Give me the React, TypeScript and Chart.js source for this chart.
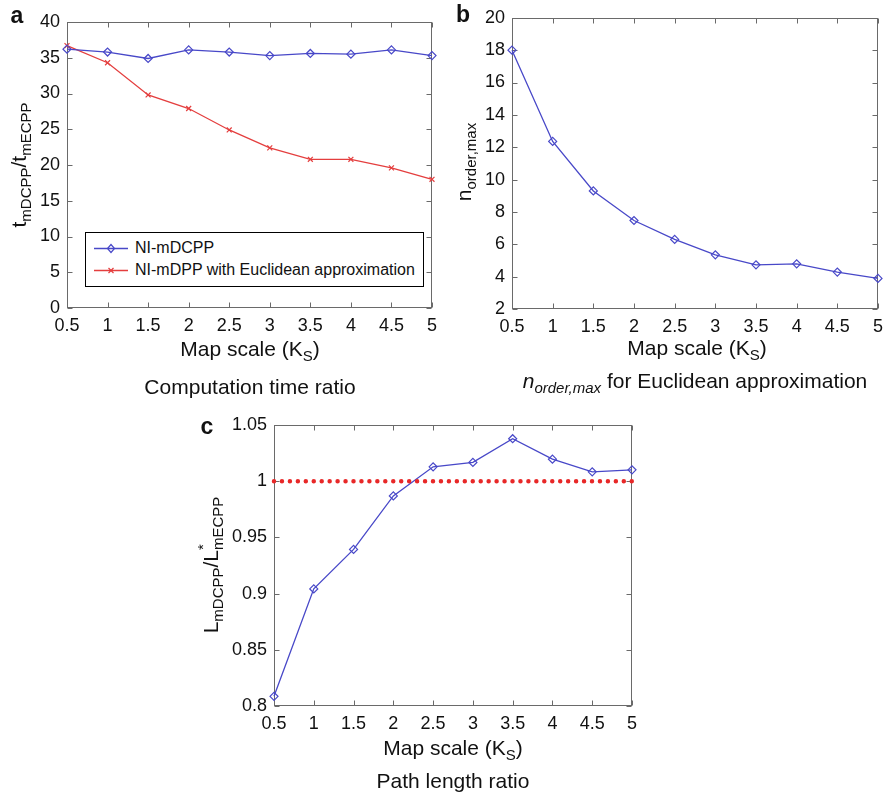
import React, { useEffect, useRef } from "react";
import { Chart, registerables } from "chart.js";

Chart.register(...registerables);
Chart.defaults.font.family = "'Liberation Sans', Arial, Helvetica, sans-serif";

// ---------- data ----------
const mapScale = [0.5, 1, 1.5, 2, 2.5, 3, 3.5, 4, 4.5, 5];
const timeRatioNI = [36.2, 35.8, 34.9, 36.1, 35.8, 35.3, 35.6, 35.5, 36.1, 35.3];
const timeRatioEuclid = [36.7, 34.3, 29.8, 27.9, 24.9, 22.4, 20.8, 20.8, 19.6, 18.0];
const nOrderMax = [18.0, 12.36, 9.3, 7.47, 6.3, 5.35, 4.73, 4.79, 4.28, 3.89];
const pathLengthRatio = [0.8086, 0.9042, 0.9393, 0.9869, 1.0128, 1.0167, 1.0378, 1.0196, 1.0083, 1.0101];
const referenceScale = [0.5, 5];
const referenceRatio = [1, 1];

const legendLabels = ["NI-mDCPP", "NI-mDPP with Euclidean approximation"];

const BLUE = "rgb(72,72,200)";
const RED = "rgb(228,62,62)";

const fmt = (v: number | string) => String(Number(Number(v).toFixed(2)));
const pts = (xs: number[], ys: number[]) => xs.map((x, i) => ({ x, y: ys[i] }));

const framePlugin = {
  id: "frame",
  beforeDatasetsDraw(chart: any) {
    const { ctx, chartArea: a, scales } = chart;
    const L = Math.round(a.left) + 0.5;
    const R = Math.round(a.right) - 0.5;
    const T = Math.round(a.top) + 0.5;
    const B = Math.round(a.bottom) - 0.5;
    ctx.save();
    ctx.strokeStyle = "#6a6a6a";
    ctx.lineWidth = 1;
    ctx.strokeRect(L, T, R - L, B - T);
    const len = 5;
    ctx.beginPath();
    scales.x.ticks.forEach((t: any) => {
      const x = Math.round(scales.x.getPixelForValue(t.value)) + 0.5;
      ctx.moveTo(x, B);
      ctx.lineTo(x, B - len);
      ctx.moveTo(x, T);
      ctx.lineTo(x, T + len);
    });
    scales.y.ticks.forEach((t: any) => {
      const y = Math.round(scales.y.getPixelForValue(t.value)) + 0.5;
      ctx.moveTo(L, y);
      ctx.lineTo(L + len, y);
      ctx.moveTo(R, y);
      ctx.lineTo(R - len, y);
    });
    ctx.stroke();
    ctx.restore();
  },
};

function baseOptions(p: {
  yMin: number; yMax: number; yStep: number; yWidth: number; xHeight: number;
  pad: { left: number; right: number; top: number; bottom: number };
}) {
  return {
    responsive: false,
    animation: false,
    devicePixelRatio: 1,
    layout: { padding: p.pad },
    plugins: { legend: { display: false }, tooltip: { enabled: false } },
    scales: {
      x: {
        type: "linear",
        min: 0.5,
        max: 5,
        afterFit: (s: any) => { s.height = p.xHeight; },
        grid: { display: false, drawTicks: false },
        border: { display: false },
        ticks: { stepSize: 0.5, padding: 7, color: "#111", font: { size: 18 }, callback: fmt, maxRotation: 0, autoSkip: false },
      },
      y: {
        type: "linear",
        min: p.yMin,
        max: p.yMax,
        afterFit: (s: any) => { s.width = p.yWidth; },
        grid: { display: false, drawTicks: false },
        border: { display: false },
        ticks: { stepSize: p.yStep, padding: 7, color: "#111", font: { size: 18 }, callback: fmt, autoSkip: false },
      },
    },
  };
}

const blueStyle = {
  borderColor: BLUE,
  borderWidth: 1.3,
  pointStyle: "rectRot",
  pointRadius: 4,
  pointBorderColor: BLUE,
  pointBackgroundColor: "rgba(0,0,0,0)",
  pointBorderWidth: 1.2,
  tension: 0,
  clip: false,
};

function ChartCanvas({ left, top, width, height, build }: any) {
  const ref = useRef<HTMLCanvasElement>(null);
  useEffect(() => {
    const chart = new Chart(ref.current as HTMLCanvasElement, build());
    return () => chart.destroy();
  }, []);
  return (
    <div style={{ position: "absolute", left, top, width, height }}>
      <canvas ref={ref} width={width} height={height} style={{ width, height, display: "block" }} />
    </div>
  );
}

const Sub = ({ children, italic }: any) => (
  <span style={{ fontSize: 15, position: "relative", top: 5, fontStyle: italic ? "italic" : "normal" }}>{children}</span>
);

function Txt({ x, y, size = 21, rotate = false, bold = false, children }: any) {
  return (
    <div
      style={{
        position: "absolute",
        left: x,
        top: y,
        transform: `translate(-50%,-50%)${rotate ? " rotate(-90deg)" : ""}`,
        whiteSpace: "nowrap",
        fontSize: size,
        lineHeight: 1,
        fontWeight: bold ? "bold" : "normal",
        color: "#111",
      }}
    >
      {children}
    </div>
  );
}

const MapScaleLabel = () => (
  <>Map scale (K<Sub>S</Sub>)</>
);

function Legend() {
  const row = (i: number, cy: number) => (
    <div style={{ position: "absolute", left: 0, top: cy - 10, height: 20, width: "100%" }}>
      <svg width={36} height={20} style={{ position: "absolute", left: 7, top: 0 }}>
        <line x1={1} y1={10.5} x2={35} y2={10.5} stroke={i === 0 ? BLUE : RED} strokeWidth={1.3} />
        {i === 0 ? (
          <polygon points="18,6.5 21.5,10.5 18,14.5 14.5,10.5" fill="none" stroke={BLUE} strokeWidth={1.2} />
        ) : (
          <g stroke={RED} strokeWidth={1.2}>
            <line x1={15.5} y1={8} x2={20.5} y2={13} />
            <line x1={20.5} y1={8} x2={15.5} y2={13} />
          </g>
        )}
      </svg>
      <span style={{ position: "absolute", left: 49, top: 1, fontSize: 16, lineHeight: "18px", color: "#111" }}>{legendLabels[i]}</span>
    </div>
  );
  return (
    <div
      style={{
        position: "absolute",
        left: 85,
        top: 232,
        width: 339,
        height: 55,
        border: "1px solid #000",
        boxSizing: "border-box",
        background: "#fff",
      }}
    >
      {row(0, 15)}
      {row(1, 37)}
    </div>
  );
}

export default function App() {
  const buildA = () => ({
    type: "line",
    data: {
      datasets: [
        { label: legendLabels[0], data: pts(mapScale, timeRatioNI), ...blueStyle },
        {
          label: legendLabels[1],
          data: pts(mapScale, timeRatioEuclid),
          borderColor: RED,
          borderWidth: 1.3,
          pointStyle: "crossRot",
          pointRadius: 3.5,
          pointBorderColor: RED,
          pointBorderWidth: 1.2,
          tension: 0,
          clip: false,
        },
      ],
    },
    options: baseOptions({ yMin: 0, yMax: 40, yStep: 5, yWidth: 67, xHeight: 92, pad: { left: 0, right: 13, top: 22, bottom: 0 } }),
    plugins: [framePlugin],
  });

  const buildB = () => ({
    type: "line",
    data: { datasets: [{ label: "n_order,max", data: pts(mapScale, nOrderMax), ...blueStyle }] },
    options: baseOptions({ yMin: 2, yMax: 20, yStep: 2, yWidth: 67, xHeight: 91, pad: { left: 0, right: 8, top: 17, bottom: 0 } }),
    plugins: [framePlugin],
  });

  const buildC = () => ({
    type: "line",
    data: {
      datasets: [
        {
          label: "reference",
          data: pts(referenceScale, referenceRatio),
          borderColor: "rgb(232,40,40)",
          borderWidth: 4.5,
          borderDash: [0, 7.95],
          borderCapStyle: "round",
          pointRadius: 0,
          clip: false,
        },
        { label: "path length ratio", data: pts(mapScale, pathLengthRatio), ...blueStyle },
      ],
    },
    options: baseOptions({ yMin: 0.8, yMax: 1.05, yStep: 0.05, yWidth: 84, xHeight: 90, pad: { left: 0, right: 18, top: 25, bottom: 0 } }),
    plugins: [framePlugin],
  });

  return (
    <div
      style={{
        position: "absolute",
        left: 0,
        top: 0,
        width: 890,
        height: 796,
        background: "#fff",
        fontFamily: "'Liberation Sans', Arial, Helvetica, sans-serif",
        overflow: "hidden",
      }}
    >
      <ChartCanvas left={0} top={0} width={445} height={400} build={buildA} />
      <ChartCanvas left={445} top={0} width={445} height={400} build={buildB} />
      <ChartCanvas left={190} top={400} width={460} height={396} build={buildC} />

      <Legend />

      {/* panel letters */}
      <Txt x={17} y={15} size={23} bold>a</Txt>
      <Txt x={463} y={14} size={23} bold>b</Txt>
      <Txt x={207} y={426} size={23} bold>c</Txt>

      {/* panel a */}
      <Txt x={18} y={165} rotate>t<Sub>mDCPP</Sub>/t<Sub>mECPP</Sub></Txt>
      <Txt x={250} y={348}><MapScaleLabel /></Txt>
      <Txt x={250} y={386}>Computation time ratio</Txt>

      {/* panel b */}
      <Txt x={463} y={162} rotate>n<Sub>order,max</Sub></Txt>
      <Txt x={697} y={347}><MapScaleLabel /></Txt>
      <Txt x={695} y={380}>
        <i>n</i><Sub italic>order,max</Sub> for Euclidean approximation
      </Txt>

      {/* panel c */}
      <Txt x={210} y={565} rotate>
        L<Sub>mDCPP</Sub>/
        <span style={{ position: "relative" }}>
          L
          <span style={{ position: "absolute", left: "100%", top: -4, fontSize: 15 }}>*</span>
        </span>
        <Sub>mECPP</Sub>
      </Txt>
      <Txt x={453} y={747}><MapScaleLabel /></Txt>
      <Txt x={453} y={780}>Path length ratio</Txt>
    </div>
  );
}
